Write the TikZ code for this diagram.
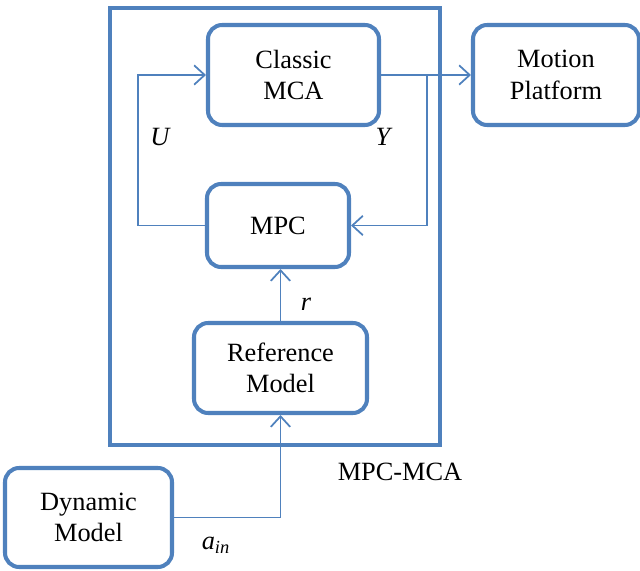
\documentclass[tikz,border=0pt]{standalone}
\usepackage{fontspec}
\setmainfont{Liberation Serif}
\usepackage{tikz}
\usetikzlibrary{arrows.meta,positioning,calc}
\definecolor{boxblue}{RGB}{79,129,189}

\begin{document}
\begin{tikzpicture}[x=0.02cm,y=-0.02cm,
  block/.style={draw=boxblue,line width=2.3pt,rounded corners=8pt,fill=white,
    align=center,inner sep=0pt,font=\fontsize{15}{18}\selectfont},
  conn/.style={draw=boxblue,line width=1pt,-{Straight Barb[length=6pt,width=11pt]}},
  lbl/.style={font=\fontsize{15}{18}\selectfont\itshape}]
\useasboundingbox (0,0) rectangle (640,571);
% outer frame
\draw[boxblue,line width=2.3pt] (110,8) rectangle (440,445);
\node[font=\fontsize{15}{18}\selectfont] (mpcmca) at (400,472) {MPC-MCA};
% blocks
\node[block,minimum width=3.42cm,minimum height=2.0cm] (mca) at (293.5,75) {Classic\\MCA};
\node[block,minimum width=3.32cm,minimum height=2.0cm] (plat) at (556,75) {Motion\\Platform};
\node[block,minimum width=2.84cm,minimum height=1.66cm] (mpc) at (278,225.5) {MPC};
\node[block,minimum width=3.46cm,minimum height=1.8cm] (ref) at (280.5,368) {Reference\\Model};
\node[block,minimum width=3.34cm,minimum height=1.98cm] (dyn) at (88.5,517.5) {Dynamic\\Model};
% corners of the loops
\coordinate (yk) at (427,75);
\coordinate (uk) at (138,225.5);
% connectors
\draw[conn] (mca.east) -- (plat.west);
\draw[conn] (yk) |- (mpc.east);
\draw[conn] (mpc.west) -- (uk) |- (mca.west);
\draw[conn] (ref.north) -- (ref.north |- mpc.south);
\draw[conn] (dyn.east) -| (ref.south);
% labels
\node[lbl] (ulbl) at (160,137) {U};
\node[lbl] (ylbl) at (383,137) {Y};
\node[lbl] (rlbl) at (306,304) {r};
\node[lbl] (albl) at (216,545) {a\textsubscript{in}};
\end{tikzpicture}
\end{document}
